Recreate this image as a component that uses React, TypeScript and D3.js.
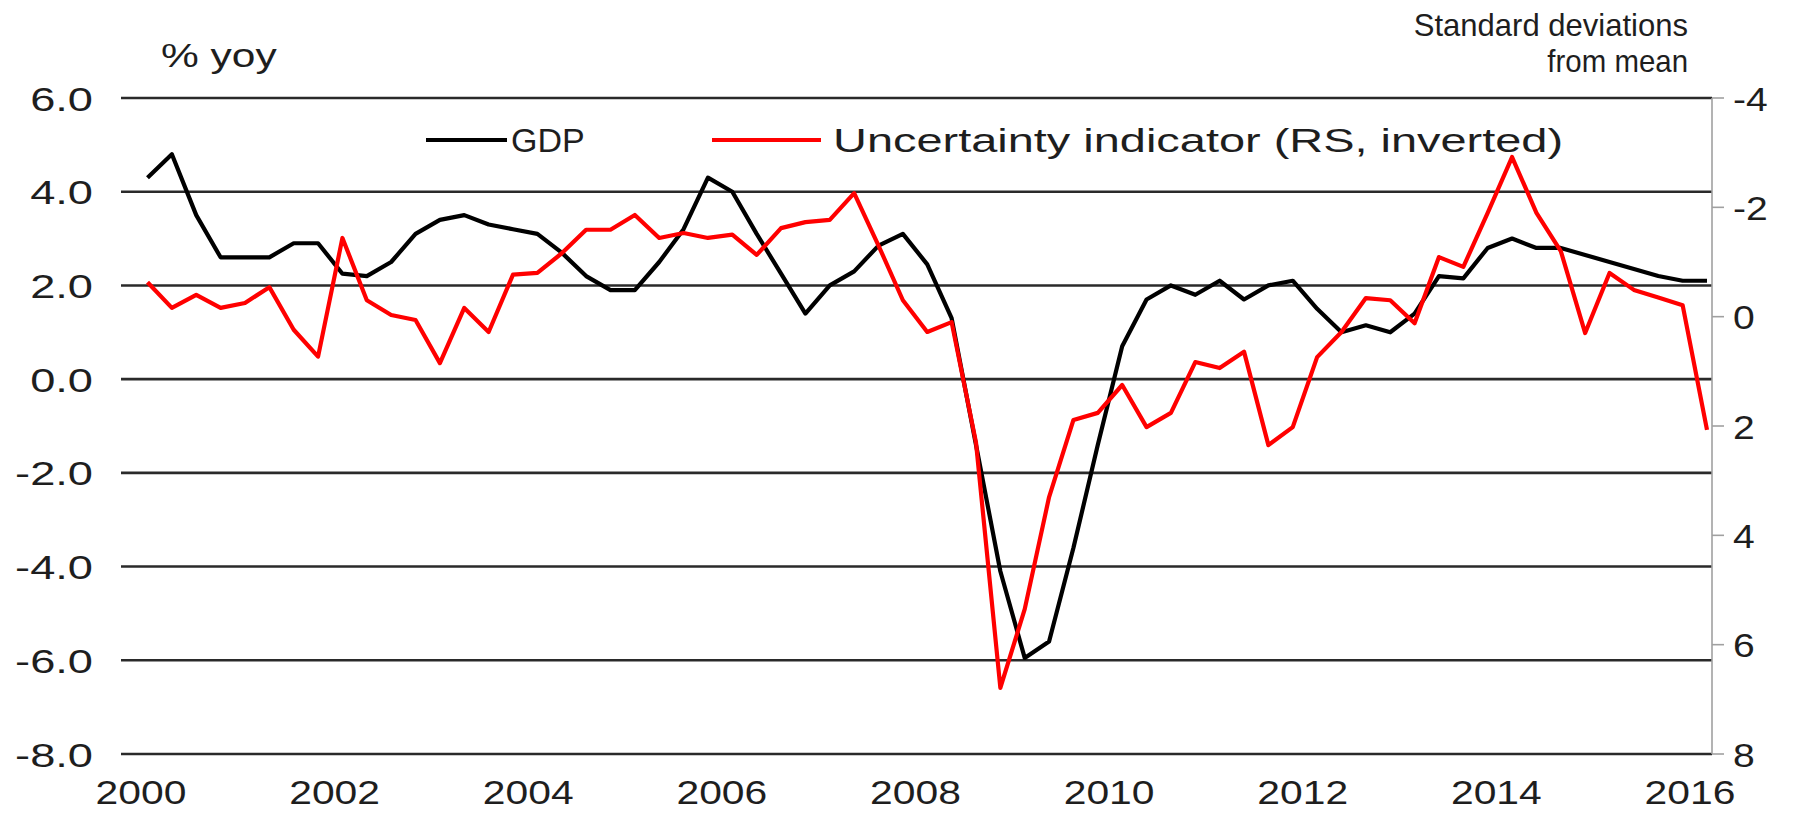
import React from "react";
import * as d3 from "d3";

// ---- Data (quarterly, 2000Q1 .. 2016Q1) ----
const quarters: string[] = d3.range(65).map((i) => `${2000 + Math.floor(i / 4)}Q${(i % 4) + 1}`);

// GDP, % yoy (left axis)
const gdp: number[] = [
  4.3, 4.8, 3.5, 2.6, 2.6, 2.6, 2.9, 2.9, 2.25, 2.2,
  2.5, 3.1, 3.4, 3.5, 3.3, 3.2, 3.1, 2.7, 2.2, 1.9,
  1.9, 2.5, 3.2, 4.3, 4.0, 3.1, 2.25, 1.4, 2.0, 2.3,
  2.85, 3.1, 2.45, 1.3, -1.4, -4.1, -5.95, -5.6, -3.6, -1.4,
  0.7, 1.7, 2.0, 1.8, 2.1, 1.7, 2.0, 2.1, 1.5, 1.0,
  1.15, 1.0, 1.4, 2.2, 2.15, 2.8, 3.0, 2.8, 2.8, 2.65,
  2.5, 2.35, 2.2, 2.1, 2.1,
];

// Uncertainty indicator, standard deviations from mean (right axis, inverted)
const uncertainty: number[] = [
  -0.63, -0.16, -0.4, -0.16, -0.25, -0.54, 0.24, 0.73, -1.44, -0.3,
  -0.03, 0.06, 0.85, -0.16, 0.28, -0.77, -0.8, -1.16, -1.59, -1.59,
  -1.86, -1.44, -1.53, -1.44, -1.5, -1.13, -1.62, -1.73, -1.77, -2.26,
  -1.3, -0.3, 0.28, 0.1, 2.3, 6.79, 5.35, 3.3, 1.89, 1.76,
  1.25, 2.02, 1.76, 0.83, 0.94, 0.64, 2.35, 2.02, 0.74, 0.28,
  -0.34, -0.3, 0.12, -1.09, -0.91, -1.9, -2.92, -1.9, -1.2, 0.3,
  -0.8, -0.49, -0.35, -0.21, 2.07,
];

const leftTicks: number[] = [6, 4, 2, 0, -2, -4, -6, -8];
const rightTicks: number[] = [-4, -2, 0, 2, 4, 6, 8];
const yearTicks: number[] = [2000, 2002, 2004, 2006, 2008, 2010, 2012, 2014, 2016];

const seriesNames = { gdp: "GDP", unc: "Uncertainty indicator (RS, inverted)" };
const leftUnit = "% yoy";
const rightUnit = ["Standard deviations", "from mean"];

// ---- Layout ----
const W = 1807;
const H = 815;
const plotLeft = 121;
const plotRight = 1712;
const plotTop = 98;
const plotBottom = 754;
const FONT = "'Liberation Sans', Arial, Helvetica, sans-serif";
const TXT = "#1e1e1e";
const SX = 1.33; // horizontal stretch of the original's text
const FS = 34;

const timeOf = (q: string) => {
  const y = +q.slice(0, 4);
  const k = +q.slice(5);
  return y + (k - 1) / 4;
};

function SText(props: {
  x: number;
  y: number;
  anchor?: "start" | "middle" | "end";
  sx?: number;
  size?: number;
  children: React.ReactNode;
}) {
  const { x, y, anchor = "start", sx = SX, size = FS, children } = props;
  return (
    <g transform={`translate(${x},${y}) scale(${sx},1)`}>
      <text textAnchor={anchor} fontSize={size} fontFamily={FONT} fill={TXT}>
        {children}
      </text>
    </g>
  );
}

export default function App() {
  const x = d3.scaleLinear().domain([2000, 2016]).range([147.5, 1707]);
  const xLab = d3.scaleLinear().domain([2000, 2016]).range([141, 1690]);
  const yL = d3.scaleLinear().domain([-8, 6]).range([plotBottom, plotTop]);
  const yR = d3.scaleLinear().domain([-4, 8]).range([plotTop, plotBottom]);

  const gdpLine = d3
    .line<number>()
    .x((_, i) => x(timeOf(quarters[i])))
    .y((d) => yL(d));
  const uncLine = d3
    .line<number>()
    .x((_, i) => x(timeOf(quarters[i])))
    .y((d) => yR(d));

  const fmtL = (v: number) => v.toFixed(1);

  return (
    <svg
      width={W}
      height={H}
      viewBox={`0 0 ${W} ${H}`}
      style={{ position: "absolute", left: 0, top: 0, background: "#fff" }}
    >
      <rect x={0} y={0} width={W} height={H} fill="#fff" />

      {/* gridlines */}
      {leftTicks.map((t) => (
        <line
          key={`g${t}`}
          x1={plotLeft}
          x2={plotRight}
          y1={yL(t)}
          y2={yL(t)}
          stroke="#2a2a2a"
          strokeWidth={2.6}
        />
      ))}

      {/* left tick labels */}
      {leftTicks.map((t) => (
        <SText key={`l${t}`} x={93} y={yL(t) + 12.5} anchor="end">
          {fmtL(t)}
        </SText>
      ))}

      {/* right axis */}
      <line x1={plotRight} x2={plotRight} y1={plotTop} y2={plotBottom} stroke="#a0a0a0" strokeWidth={1.6} />
      {rightTicks.map((t) => (
        <g key={`r${t}`}>
          <line x1={plotRight} x2={plotRight + 12} y1={yR(t)} y2={yR(t)} stroke="#a0a0a0" strokeWidth={1.6} />
          <SText x={1733} y={yR(t) + 12.5} anchor="start" sx={1.15}>
            {String(t)}
          </SText>
        </g>
      ))}

      {/* x labels */}
      {yearTicks.map((yr) => (
        <SText key={`x${yr}`} x={xLab(yr)} y={804} anchor="middle" sx={1.2}>
          {String(yr)}
        </SText>
      ))}

      {/* unit labels */}
      <SText x={161} y={67} anchor="start" sx={1.25}>
        {leftUnit}
      </SText>
      <SText x={1688} y={36} anchor="end" size={32} sx={0.97}>
        {rightUnit[0]}
      </SText>
      <SText x={1688} y={72} anchor="end" size={32} sx={0.92}>
        {rightUnit[1]}
      </SText>

      {/* series */}
      <path d={gdpLine(gdp) || ""} fill="none" stroke="#000" strokeWidth={4.2} strokeLinejoin="round" />
      <path d={uncLine(uncertainty) || ""} fill="none" stroke="#ff0000" strokeWidth={4.2} strokeLinejoin="round" />

      {/* legend */}
      <line x1={426} x2={507} y1={140} y2={140} stroke="#000" strokeWidth={4.2} />
      <SText x={511} y={152} anchor="start" sx={1.0}>
        {seriesNames.gdp}
      </SText>
      <line x1={712} x2={821} y1={140} y2={140} stroke="#ff0000" strokeWidth={4.2} />
      <SText x={833} y={152} anchor="start" sx={1.38}>
        {seriesNames.unc}
      </SText>
    </svg>
  );
}
